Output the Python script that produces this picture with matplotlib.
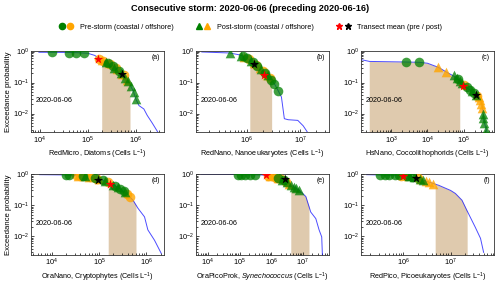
import numpy as np
import matplotlib
matplotlib.use("Agg")
import matplotlib.pyplot as plt
from matplotlib.lines import Line2D
from matplotlib.legend_handler import HandlerTuple

plt.rcParams['font.family'] = ['Liberation Sans', 'DejaVu Sans']
plt.rcParams['mathtext.fontset'] = 'custom'
plt.rcParams['mathtext.rm'] = 'Liberation Sans'
plt.rcParams['mathtext.it'] = 'Liberation Sans:italic'

storm_date = "2020-06-06"
title = "Consecutive storm: 2020-06-06 (preceding 2020-06-16)"
panel_tags = ["(a)", "(b)", "(c)", "(d)", "(e)", "(f)"]
xlabels = [
    r"RedMicro, Diatoms (Cells L$^{-1}$)",
    r"RedNano, Nanoeukaryotes (Cells L$^{-1}$)",
    r"HsNano, Coccolithophorids (Cells L$^{-1}$)",
    r"OraNano, Cryptophytes (Cells L$^{-1}$)",
    r"OraPicoProk, $\mathit{Synechococcus}$ (Cells L$^{-1}$)",
    r"RedPico, Picoeukaryotes (Cells L$^{-1}$)",
]
xlims = [(6.5e3, 3.9e6), (1.13e5, 3.5e7), (145, 6.9e5),
         (3.6e3, 2.35e6), (4.2e3, 6.8e7), (1.26e5, 8.3e7)]

# exceedance curves (blue line)
curve_x = [
    [9.5e3, 3e4, 6e4, 1e5, 1.4e5, 1.7e5, 2.5e5, 3.5e5, 5e5, 7e5, 9e5, 1.0e6, 1.17e6, 1.48e6, 1.74e6, 2.2e6, 2.9e6],
    [1.45e5, 4.8e5, 7.5e5, 1.0e6, 1.3e6, 1.7e6, 2.2e6, 2.8e6, 3.4e6, 3.9e6, 4.5e6, 5.1e6, 6e6, 9.1e6, 1.15e7, 1.38e7],
    [145, 250, 2.5e3, 6e3, 1.0e4, 2.0e4, 3.3e4, 5.4e4, 8e4, 1.0e5, 1.5e5, 2.2e5, 2.9e5, 3.3e5, 3.6e5, 4.4e5],
    [5.5e3, 2e4, 4e4, 7e4, 1e5, 1.4e5, 1.8e5, 2.5e5, 3.5e5, 4.4e5, 5.2e5, 6.6e5, 9.1e5, 1.07e6, 1.48e6, 2.05e6],
    [6e3, 1e5, 5e5, 8e5, 1.3e6, 2e6, 2.8e6, 4e6, 6e6, 8e6, 1.26e7, 1.8e7, 2.6e7, 3.3e7, 4e7, 4.2e7],
    [1.66e5, 3e5, 6e5, 1e6, 1.8e6, 3e6, 5.6e6, 1e7, 1.26e7, 1.74e7, 2.2e7, 3.3e7, 4.3e7, 5e7],
]
curve_y = [
    [0.95, 0.94, 0.92, 0.88, 0.75, 0.6, 0.45, 0.32, 0.2, 0.11, 0.05, 0.03, 0.018, 0.014, 0.0087, 0.005, 0.0025],
    [0.97, 0.9, 0.78, 0.62, 0.47, 0.32, 0.2, 0.13, 0.085, 0.055, 0.034, 0.0068, 0.0063, 0.006, 0.004, 0.0025],
    [0.55, 0.48, 0.46, 0.45, 0.42, 0.31, 0.22, 0.16, 0.11, 0.076, 0.058, 0.04, 0.03, 0.016, 0.006, 0.0025],
    [0.97, 0.95, 0.9, 0.8, 0.68, 0.58, 0.5, 0.38, 0.26, 0.19, 0.145, 0.08, 0.042, 0.016, 0.0074, 0.0028],
    [1.0, 0.98, 0.95, 0.9, 0.8, 0.7, 0.6, 0.48, 0.36, 0.3, 0.19, 0.06, 0.037, 0.016, 0.0095, 0.0025],
    [0.97, 0.95, 0.93, 0.9, 0.8, 0.6, 0.44, 0.3, 0.24, 0.145, 0.069, 0.02, 0.0085, 0.003],
]

# shaded storm range (low, high)
shade_ranges = [(1.95e5, 7.6e5), (1.15e6, 2.95e6), (245, 7.8e4),
                (1.55e5, 6e5), (4.2e6, 1.58e7), (4.7e6, 2.24e7)]

# pre-storm coastal (green circles)
pre_coast_x = [
    [1.8e4, 4.0e4, 5.6e4, 8.2e4, 2.7e5, 3.3e5, 4.4e5],
    [8.5e5, 1.0e6, 1.3e6, 1.6e6, 2.2e6, 2.9e6, 3.3e6, 3.9e6],
    [2.6e3, 6e3, 7e4, 1.2e5, 1.5e5, 1.9e5],
    [2e4, 2.3e4, 4.5e4, 8e4, 1.2e5, 2.2e5, 2.8e5, 3.3e5],
    [9e4, 1.1e5, 1.5e5, 2.2e5, 3e5, 1.6e6, 2.5e6],
    [3.2e5, 4e5, 5e5, 6.5e5, 8e5, 1.2e6, 1.5e6],
]
pre_coast_y = [
    [0.95, 0.93, 0.93, 0.9, 0.43, 0.35, 0.24],
    [0.7, 0.62, 0.47, 0.35, 0.2, 0.12, 0.09, 0.055],
    [0.45, 0.45, 0.13, 0.07, 0.058, 0.047],
    [0.95, 0.94, 0.88, 0.75, 0.63, 0.43, 0.33, 0.28],
    [0.97, 0.97, 0.97, 0.97, 0.97, 0.75, 0.63],
    [0.95, 0.94, 0.94, 0.93, 0.92, 0.87, 0.84],
]
# pre-storm offshore (orange circles)
pre_off_x = [
    [1.7e5, 2.1e5, 2.9e5, 3.8e5, 5.6e5],
    [1.1e6, 1.5e6, 2.0e6, 2.7e6],
    [1.0e5, 2.4e5],
    [3.2e4, 4e4, 5.5e4, 6.5e4, 9e4, 1.5e5, 3.8e5, 4.4e5],
    [8e5, 1.1e6, 1.4e6, 2.0e6, 3e6],
    [9e5, 1.1e6, 2.0e6],
]
pre_off_y = [
    [0.58, 0.5, 0.4, 0.3, 0.17],
    [0.57, 0.38, 0.24, 0.14],
    [0.085, 0.036],
    [0.92, 0.9, 0.85, 0.82, 0.72, 0.55, 0.23, 0.19],
    [0.9, 0.85, 0.78, 0.7, 0.58],
    [0.91, 0.89, 0.77],
]
# post-storm coastal (green triangles)
post_coast_x = [
    [2.4e5, 3.6e5, 4.9e5, 6.0e5, 7.0e5, 8.0e5, 9.0e5, 1.02e6],
    [4.8e5, 8e5, 1.2e6, 1.9e6, 2.5e6],
    [5.4e4, 6.5e4, 8e4, 9e4, 1.7e5, 2.2e5, 3.4e5, 3.5e5, 3.6e5, 4.2e5],
    [5e4, 1.3e5, 2e5, 2.5e5, 3.5e5],
    [2.2e6, 3.3e6, 4.2e6, 5.2e6, 6.2e6, 7.5e6],
    [1.3e6, 1.7e6, 2.2e6, 2.6e6],
]
post_coast_y = [
    [0.45, 0.3, 0.2, 0.14, 0.11, 0.075, 0.05, 0.03],
    [0.9, 0.72, 0.5, 0.28, 0.17],
    [0.17, 0.14, 0.11, 0.095, 0.052, 0.04, 0.01, 0.007, 0.005, 0.003],
    [0.87, 0.6, 0.46, 0.38, 0.26],
    [0.67, 0.55, 0.46, 0.4, 0.35, 0.31],
    [0.86, 0.82, 0.72, 0.66],
]
# post-storm offshore (orange triangles)
post_off_x = [
    [2.0e5, 2.8e5, 4.0e5, 5.2e5, 6.6e5],
    [9e5, 1.4e6, 1.8e6, 2.4e6],
    [2.0e4, 3.3e4, 2.6e5, 2.9e5, 3.1e5, 3.3e5],
    [3.6e4, 6e4, 1e5],
    [9.5e5, 1.7e6, 3.8e6],
    [2.4e6, 3e6, 3.5e6, 4.2e6],
]
post_off_y = [
    [0.55, 0.42, 0.28, 0.19, 0.12],
    [0.68, 0.42, 0.3, 0.18],
    [0.31, 0.22, 0.033, 0.028, 0.02, 0.015],
    [0.91, 0.84, 0.68],
    [0.88, 0.74, 0.5],
    [0.7, 0.6, 0.55, 0.5],
]
# transect means
mean_pre = [(1.65e5, 0.58), (2.1e6, 0.18), (9.5e4, 0.076),
            (1.7e5, 0.5), (6.8e5, 0.93), (1.0e6, 0.88)]
mean_post = [(5.2e5, 0.19), (1.35e6, 0.4), (2.2e5, 0.04),
             (9.5e4, 0.67), (2.8e6, 0.69), (1.85e6, 0.76)]

YLIM = (2.45e-3, 1.05)
GREEN = 'green'
ORANGE = 'orange'
MS = 48

fig = plt.figure(figsize=(5.0, 2.86), dpi=100)
lefts = [0.062, 0.392, 0.722]
bottoms = [0.537, 0.108]
w, h = 0.266, 0.285

for i in range(6):
    r, c = divmod(i, 3)
    ax = fig.add_axes([lefts[c], bottoms[r], w, h])
    ax.set_xscale('log')
    ax.set_yscale('log')

    cx = np.array(curve_x[i])
    cy = np.array(curve_y[i])

    # shaded range under the curve
    lo, hi = shade_ranges[i]
    sx = np.concatenate([[lo], cx[(cx > lo) & (cx < hi)], [hi]])
    sy = 10 ** np.interp(np.log10(sx), np.log10(cx), np.log10(cy))
    ax.fill_between(sx, YLIM[0], sy, color='tan', alpha=0.7, lw=0, zorder=1)

    ax.plot(cx, cy, color='blue', alpha=0.7, lw=0.7, zorder=2)

    ax.scatter(pre_off_x[i], pre_off_y[i], s=MS, color=ORANGE, alpha=0.8, lw=0, zorder=3)
    ax.scatter(post_off_x[i], post_off_y[i], s=MS, marker='^', color=ORANGE, alpha=0.8, lw=0, zorder=3)
    ax.scatter(pre_coast_x[i], pre_coast_y[i], s=MS, color=GREEN, alpha=0.75, lw=0, zorder=4)
    ax.scatter(post_coast_x[i], post_coast_y[i], s=MS, marker='^', color=GREEN, alpha=0.75, lw=0, zorder=4)

    ax.scatter(*mean_pre[i], s=50, marker='*', color='red', lw=0, zorder=5)
    ax.scatter(*mean_post[i], s=50, marker='*', color='black', lw=0, zorder=5)

    ax.set_xlim(xlims[i])
    ax.set_ylim(YLIM)
    ax.tick_params(which='both', direction='in', labelsize=5.3, width=0.5, pad=1.5)
    ax.tick_params(which='major', length=2.5)
    ax.tick_params(which='minor', length=1.3)
    for sp in ax.spines.values():
        sp.set_linewidth(0.6)
        sp.set_color('#333333')

    ax.set_xlabel(xlabels[i], fontsize=5.2, labelpad=1.5)
    if c == 0:
        ax.set_ylabel("Exceedance probability", fontsize=5.6, labelpad=1)
    ax.text(0.035, 0.39, storm_date, transform=ax.transAxes, fontsize=5.2, va='center')
    ax.text(0.97, 0.92, panel_tags[i], transform=ax.transAxes, fontsize=5,
            ha='right', va='center')

fig.suptitle(title, fontsize=6.6, fontweight='bold', y=0.985)

handles = [
    (Line2D([], [], ls='', marker='o', color=GREEN, ms=4.5),
     Line2D([], [], ls='', marker='o', color=ORANGE, ms=4.5)),
    (Line2D([], [], ls='', marker='^', color=GREEN, ms=4.5),
     Line2D([], [], ls='', marker='^', color=ORANGE, ms=4.5)),
    (Line2D([], [], ls='', marker='*', color='red', ms=5),
     Line2D([], [], ls='', marker='*', color='black', ms=5)),
]
labels = ["Pre-storm (coastal / offshore)", "Post-storm (coastal / offshore)",
          "Transect mean (pre / post)"]
fig.legend(handles, labels, loc='center', bbox_to_anchor=(0.5, 0.905), ncol=3,
           frameon=False, fontsize=5.2, handler_map={tuple: HandlerTuple(ndivide=None, pad=0.2)},
           handlelength=2.2, columnspacing=3.0, handletextpad=0.8)

fig.savefig("out.png", dpi=100)
